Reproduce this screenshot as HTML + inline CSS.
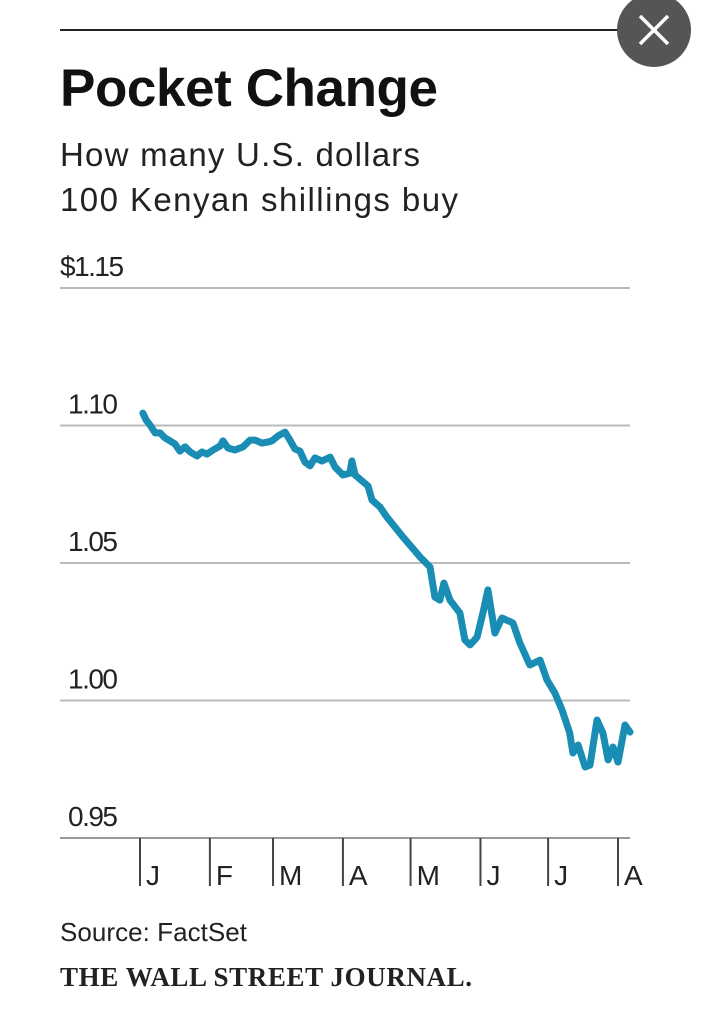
<!DOCTYPE html>
<html><head><meta charset="utf-8"><style>
body{margin:0;width:712px;height:1024px;background:#fff;overflow:hidden;font-family:"Liberation Sans",sans-serif}
svg{position:absolute;left:0;top:0}
</style></head><body>
<svg width="712" height="1024">
<line x1="60" y1="30" x2="630" y2="30" stroke="#222" stroke-width="2"/>
<g>
<circle cx="654" cy="30" r="37" fill="#555"/>
<path d="M640 16 L668 44 M668 16 L640 44" stroke="#fff" stroke-width="3.5"/>
</g>
<text x="60" y="106" font-size="53" font-weight="bold" fill="#111" letter-spacing="-1" textLength="377">Pocket Change</text>
<text x="60" y="166" font-size="33" fill="#222" textLength="360">How many U.S. dollars</text>
<text x="60" y="211" font-size="33" fill="#222" textLength="398">100 Kenyan shillings buy</text>
<g id="grid"></g><g id="xaxis"></g>
<polyline id="line" fill="none" stroke="#1a8db5" stroke-width="7" stroke-linejoin="round" stroke-linecap="round"/>
<text x="60" y="941" font-size="26" fill="#222" textLength="187">Source: FactSet</text>
<text x="60" y="986" font-size="27" font-weight="bold" font-family="Liberation Serif,serif" fill="#222" textLength="412">THE WALL STREET JOURNAL.</text>
</svg>
<script>
const yTicks=[1.15,1.10,1.05,1.00,0.95];
const yLabels=["$1.15","1.10","1.05","1.00","0.95"];
const months=["J","F","M","A","M","J","J","A"];
const monthDays=[0,31,59,90,120,151,181,212];
const days=[1.3,2.7,4.4,6.7,8.9,11.1,13.3,15.5,17.7,20,22.2,25.3,27.5,29.7,32.4,35.5,36.8,39,42.1,45.7,48.8,51,54.1,56.8,58.5,61.2,64.3,66.5,68.7,70.9,73.2,75.4,77.6,80.7,84.3,86.5,90,93.1,94,95.4,98.5,101.1,102.9,106.4,109.5,116.6,124.2,128.6,130.8,133,134.8,137.5,141.9,144.1,146.4,149.5,152.1,154.3,157.4,160.5,165.4,168.5,172.9,177.4,180.5,184,187.2,190.6,192,194.3,197.4,199.6,202.7,205.3,207.6,209.8,212,215.1,217.3];
const values=[1.1045,1.1020,1.1002,1.0973,1.0973,1.0955,1.0944,1.0933,1.0907,1.0922,1.0904,1.0889,1.0904,1.0896,1.0911,1.0925,1.0944,1.0918,1.0911,1.0922,1.0947,1.0947,1.0936,1.0940,1.0944,1.0962,1.0976,1.0947,1.0915,1.0907,1.0867,1.0853,1.0882,1.0871,1.0885,1.0849,1.0820,1.0827,1.0871,1.0820,1.0798,1.0780,1.0729,1.0704,1.0667,1.0595,1.0522,1.0485,1.0376,1.0365,1.0427,1.0365,1.0318,1.0220,1.0202,1.0231,1.0318,1.0402,1.0245,1.0300,1.0282,1.0209,1.0129,1.0147,1.0075,1.0027,0.9965,0.9882,0.9809,0.9838,0.9758,0.9765,0.9929,0.9882,0.9784,0.9831,0.9776,0.9911,0.9885];
const x0=140,x1=618;
function xs(d){return x0+(d/212)*(x1-x0);}
function ys(v){return 288+(1.15-v)*2750;}
const NS="http://www.w3.org/2000/svg";
const grid=document.getElementById('grid');
yTicks.forEach((t,i)=>{
 const l=document.createElementNS(NS,'line');
 l.setAttribute('x1',60);l.setAttribute('x2',630);l.setAttribute('y1',ys(t));l.setAttribute('y2',ys(t));
 l.setAttribute('stroke',i===4?'#999':'#bbb');l.setAttribute('stroke-width',2);
 
 
 grid.appendChild(l);
 const tx=document.createElementNS(NS,'text');
 tx.setAttribute('x',i===0?60:68);tx.setAttribute('y',ys(t)-12);tx.setAttribute('font-size',28);tx.setAttribute('fill','#222');tx.setAttribute('letter-spacing','-1.5');
 tx.textContent=yLabels[i];
 
 
 grid.appendChild(tx);
});
const xa=document.getElementById('xaxis');
months.forEach((m,i)=>{
 const x=xs(monthDays[i]);
 const l=document.createElementNS(NS,'line');
 l.setAttribute('x1',x);l.setAttribute('x2',x);l.setAttribute('y1',838);l.setAttribute('y2',886);
 l.setAttribute('stroke','#444');l.setAttribute('stroke-width',2);
 
 
 xa.appendChild(l);
 const tx=document.createElementNS(NS,'text');
 tx.setAttribute('x',x+6);tx.setAttribute('y',885);tx.setAttribute('font-size',28);tx.setAttribute('fill','#222');
 tx.textContent=m;
 
 
 xa.appendChild(tx);
});
document.getElementById('line').setAttribute('points',days.map((d,i)=>xs(d).toFixed(1)+','+ys(values[i]).toFixed(1)).join(' '));
</script>
</body></html>
